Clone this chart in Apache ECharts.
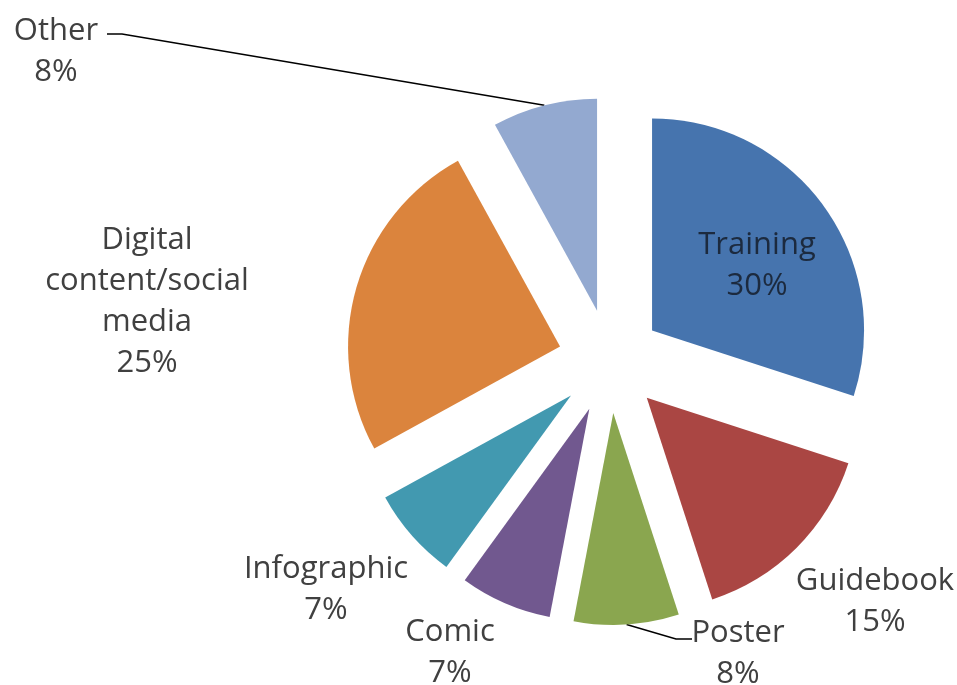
<!DOCTYPE html>
<html>
<head>
<meta charset="utf-8">
<script src="https://cdn.jsdelivr.net/npm/echarts@6/dist/echarts.min.js"></script>
<style>
html,body{margin:0;padding:0;background:#fff;}
#chart{width:957px;height:685px;}
</style>
</head>
<body>
<div id="chart"></div>
<script>
// Data
const categories = ['Training', 'Guidebook', 'Poster', 'Comic', 'Infographic', 'Digital\ncontent/social\nmedia', 'Other'];
const values = [30, 15, 8, 7, 7, 25, 8];
const colors = ['#4674AE', '#AA4643', '#8AA64F', '#71588F', '#4299B0', '#DB843D', '#93A9D0'];

// Layout (not data)
const pieCenter = [610, 361];
const pieRadius = 212;
const explode = 52;
const labelPos = [
  [757, 266], [875, 602], [738, 654], [450, 653], [326, 590], [147, 302], [56, 52]
];
const leaderEnds = {
  2: [[676, 639], [692, 639]],
  6: [[122, 34], [107, 34]]
};

const total = values.reduce((a, b) => a + b, 0);
let acc = 0;
const geo = values.map(v => {
  const mid = (acc + v / 2) / total * 2 * Math.PI;
  acc += v;
  const dir = [Math.sin(mid), -Math.cos(mid)];
  const c = [pieCenter[0] + explode * dir[0], pieCenter[1] + explode * dir[1]];
  const edge = [c[0] + pieRadius * dir[0], c[1] + pieRadius * dir[1]];
  return { c, edge };
});

const series = values.map((_, k) => ({
  type: 'pie',
  center: geo[k].c,
  radius: [0, pieRadius],
  startAngle: 90,
  clockwise: true,
  silent: true,
  emphasis: { disabled: true },
  label: {
    show: false,
    formatter: '{b}\n{d}%',
    fontFamily: 'Open Sans',
    fontSize: 31,
    lineHeight: 41,
    align: 'center',
    width: 320,
    overflow: 'none'
  },
  labelLine: { show: false, lineStyle: { color: '#000', width: 1.5 } },
  data: categories.map((c, i) => ({
    name: c,
    value: values[i],
    itemStyle: { color: i === k ? colors[i] : 'rgba(0,0,0,0)' },
    label: i === k ? {
      show: true,
      position: i === 0 ? 'inside' : 'outside',
      color: i === 0 ? '#1c2a3e' : '#404040'
    } : { show: false },
    labelLine: { show: i === k && !!leaderEnds[i] }
  })),
  labelLayout: function (params) {
    const i = params.dataIndex;
    if (i !== k) return {};
    const p = labelPos[i];
    const out = { x: p[0], y: p[1], align: 'center', verticalAlign: 'middle' };
    if (leaderEnds[i]) {
      out.labelLinePoints = [geo[i].edge, leaderEnds[i][0], leaderEnds[i][1]];
    }
    return out;
  }
}));

const chart = echarts.init(document.getElementById('chart'));
chart.setOption({ animation: false, series: series });
</script>
</body>
</html>
